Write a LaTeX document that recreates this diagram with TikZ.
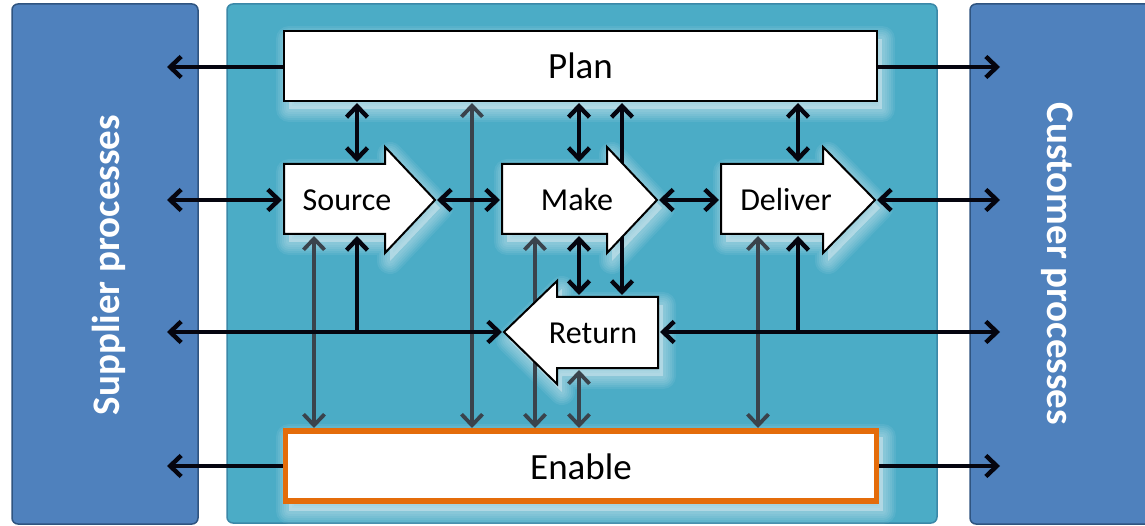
\documentclass[tikz,border=0pt]{standalone}
\usepackage{fontspec}
\setmainfont{Carlito}
\usetikzlibrary{arrows.meta}
\definecolor{sideblue}{HTML}{4F81BD}
\definecolor{sideedge}{HTML}{2F5480}
\definecolor{midblue}{HTML}{4BACC6}
\definecolor{midedge}{HTML}{3B88A8}
\definecolor{grayline}{HTML}{3A434C}
\definecolor{blackline}{HTML}{05050F}
\definecolor{enableorange}{HTML}{E46C0A}
\newcommand\glowshape[1]{%
  \foreach \w in {26,22,18,14,10,6}{%
    \path[draw=white,fill=white,line width=\w pt,opacity=0.07,line join=round,shift={(5,8)}] #1;}}
\tikzset{
  panel/.style={rounded corners=6pt,line width=1.5pt},
  procbox/.style={draw=black,fill=white,line width=2pt,line join=miter},
  blk/.style={draw=blackline,line width=4.4pt,{Straight Barb[length=11pt,width=21pt,line width=4.4pt]}-{Straight Barb[length=11pt,width=21pt,line width=4.4pt]}},
  blkR/.style={draw=blackline,line width=4.4pt,-{Straight Barb[length=11pt,width=21pt,line width=4.4pt]}},
  gry/.style={draw=grayline,line width=3.8pt,{Straight Barb[length=11pt,width=21pt,line width=3.8pt]}-{Straight Barb[length=11pt,width=21pt,line width=3.8pt]}},
  lbl/.style={font=\fontsize{32}{38}\selectfont,inner sep=0pt},
  biglbl/.style={font=\fontsize{37}{44}\selectfont,inner sep=0pt},
  sidelbl/.style={font=\fontsize{39}{46}\selectfont\bfseries,text=white,inner sep=0pt,anchor=base},
}
\begin{document}
\begin{tikzpicture}[x=1pt,y=-1pt]
\useasboundingbox (0,0) rectangle (1145,526);
\fill[white] (0,0) rectangle (1145,526);
% panels
\path[panel,fill=sideblue,draw=sideedge] (12,4) rectangle (198,524);
\path[panel,fill=midblue,draw=midedge] (227,4) rectangle (937,523);
\path[panel,fill=sideblue,draw=sideedge] (970,4) rectangle (1160,524);
\node[sidelbl,rotate=90] (supplier) at (119,265) {Supplier processes};
\node[sidelbl,rotate=-90] (customer) at (1047,264) {Customer processes};
% glows
\glowshape{(284,31) rectangle (877,101)}
\glowshape{(284,429) rectangle (878,503)}
\glowshape{(284,164) -- (385,164) -- (385,147) -- (435,200) -- (385,253) -- (385,234) -- (284,234) -- cycle}
\glowshape{(502,164) -- (607,164) -- (607,147) -- (657,200) -- (607,253) -- (607,234) -- (502,234) -- cycle}
\glowshape{(721,164) -- (823,164) -- (823,147) -- (875,200) -- (823,253) -- (823,234) -- (721,234) -- cycle}
\glowshape{(658,297) -- (557,297) -- (557,281) -- (504,332) -- (557,384) -- (557,368) -- (658,368) -- cycle}
% coordinates
\coordinate (supA) at (167,67);
\coordinate (supB) at (167,200);
\coordinate (supC) at (167,332);
\coordinate (supD) at (167,466);
\coordinate (cusA) at (1000,67);
\coordinate (cusB) at (1000,200);
\coordinate (cusC) at (1000,332);
\coordinate (cusD) at (1000,466);
\coordinate (jS) at (357,332);
\coordinate (jD) at (798,332);
% gray connectors
\draw[gry] (314,236) -- (314,428);
\draw[gry] (472,103) -- (472,428);
\draw[gry] (535,236) -- (535,428);
\draw[gry] (579,370) -- (579,428);
\draw[gry] (758,236) -- (758,428);
% black connectors
\draw[blkR] (284,67) -- (supA);
\draw[blkR] (877,67) -- (cusA);
\draw[blk] (supB) -- (282,200);
\draw[blk] (437,200) -- (500,200);
\draw[blk] (659,200) -- (719,200);
\draw[blk] (877,200) -- (cusB);
\draw[blk] (357,103) -- (357,162);
\draw[blk] (579,103) -- (579,162);
\draw[blk] (798,103) -- (798,162);
\draw[blk] (622,103) -- (622,295);
\draw[blk] (579,236) -- (579,295);
\draw[blk] (supC) -- (502,332);
\draw[blkR] (jS) -- (357,236);
\draw[blk] (660,332) -- (cusC);
\draw[blkR] (jD) -- (798,236);
\draw[blkR] (284,466) -- (supD);
\draw[blkR] (878,466) -- (cusD);
% shapes
\draw[procbox] (284,31) rectangle (877,101);
\node[biglbl] (plan) at (580.5,66) {Plan};
\draw[enableorange,fill=white,line width=5.5pt] (285.5,431) rectangle (876.5,501);
\node[biglbl] (enable) at (581,467) {Enable};
\draw[procbox] (284,164) -- (385,164) -- (385,147) -- (435,200) -- (385,253) -- (385,234) -- (284,234) -- cycle;
\node[lbl] (source) at (347,200) {Source};
\draw[procbox] (502,164) -- (607,164) -- (607,147) -- (657,200) -- (607,253) -- (607,234) -- (502,234) -- cycle;
\node[lbl] (make) at (577,200) {Make};
\draw[procbox] (721,164) -- (823,164) -- (823,147) -- (875,200) -- (823,253) -- (823,234) -- (721,234) -- cycle;
\node[lbl] (deliver) at (786,200) {Deliver};
\draw[procbox] (658,297) -- (557,297) -- (557,281) -- (504,332) -- (557,384) -- (557,368) -- (658,368) -- cycle;
\node[lbl] (return) at (593,333) {Return};
\end{tikzpicture}
\end{document}
